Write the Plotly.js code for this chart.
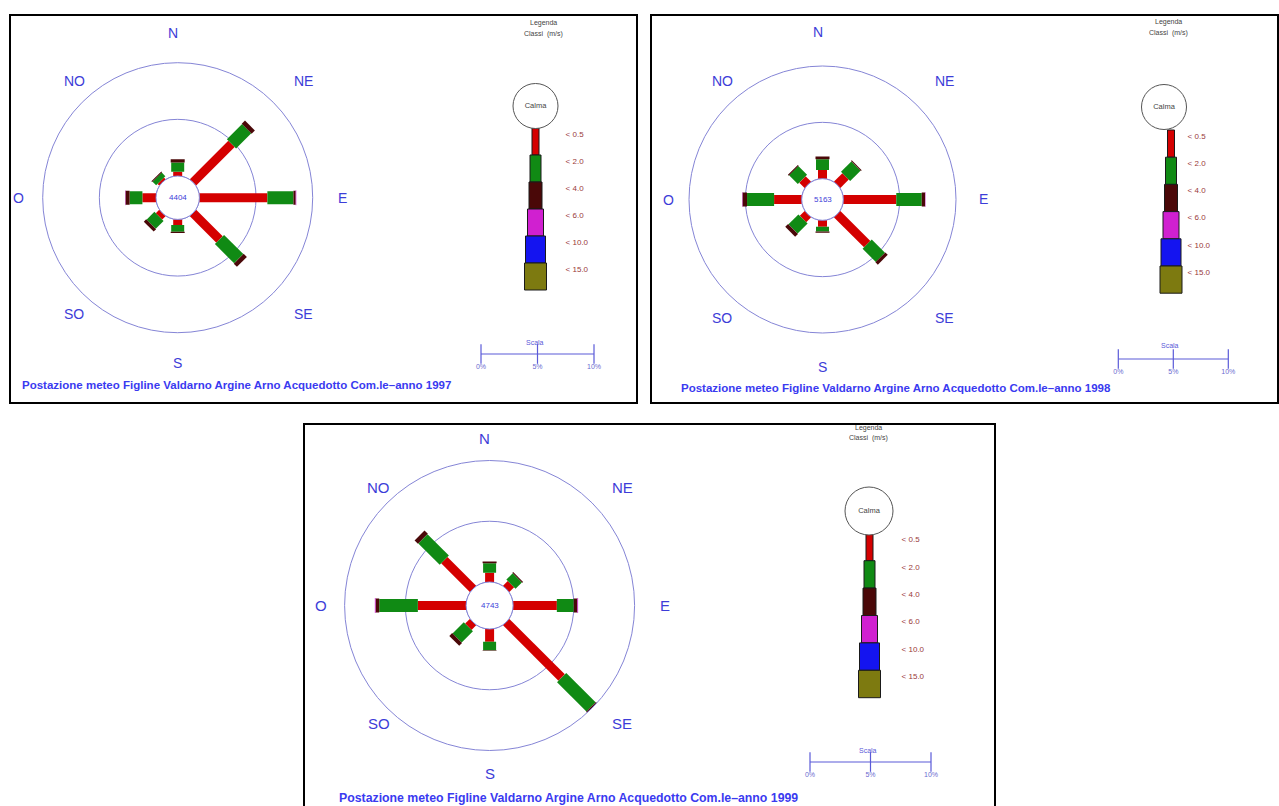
<!DOCTYPE html>
<html><head><meta charset="utf-8">
<script src="https://cdn.plot.ly/plotly-3.0.1.min.js"></script>
<style>html,body{margin:0;padding:0;background:#fff}#chart{width:1279px;height:806px}</style>
</head><body><div id="chart"></div>
<script>
// ---------------- DATA ----------------
const DIRS = ['N','NE','E','SE','S','SO','O','NO'];
const DIR_DEG = [0,45,90,135,180,225,270,315];
const CLASSES = ['< 0.5','< 2.0','< 4.0','< 6.0','< 10.0','< 15.0'];
const YEARS = [1997, 1998, 1999];
const TOTALS = [4404, 5163, 4743];
const SCALE_TICKS = [0, 5, 10];
const SCALE_LABELS = ['0%', '5%', '10%'];

// frequency (%) per direction (N, NE, E, SE, S, SO, O, NO) for each speed class
const F1997_C05 = [0.38, 4.8, 6.0, 3.3, 0.5, 0.42, 1.2, 0.2];
const F1997_C2  = [0.81, 1.9, 2.3, 2.4, 0.6, 0.98, 1.13, 0.45];
const F1997_C4  = [0.29, 0.4, 0.2, 0.4, 0.1, 0.3, 0.36, 0.1];
const F1997_C6  = [0, 0, 0.05, 0, 0, 0, 0.03, 0];

const F1998_C05 = [0.78, 1.05, 4.7, 3.76, 0.57, 0.6, 2.45, 0.67];
const F1998_C2  = [0.95, 1.3, 2.26, 1.66, 0.43, 1.25, 2.4, 1.1];
const F1998_C4  = [0.23, 0.1, 0.3, 0.3, 0.1, 0.36, 0.4, 0.1];
const F1998_C6  = [0, 0, 0.03, 0, 0, 0, 0.03, 0];

const F1999_C05 = [0.77, 0.55, 3.6, 6.45, 1.05, 0.54, 3.97, 3.34];
const F1999_C2  = [0.78, 0.74, 1.39, 3.42, 0.69, 1.31, 3.18, 2.49];
const F1999_C4  = [0.13, 0.1, 0.3, 0.27, 0.05, 0.33, 0.3, 0.39];
const F1999_C6  = [0, 0, 0.06, 0, 0, 0, 0.06, 0];

// ---------------- STYLE ----------------
const CLASS_COLORS = ['#d40000','#108a14','#4a0808','#d020d0','#1414f0','#7d7a10'];
const ROSE_W = [9, 13, 14, 15, 16, 17];
const LEG_W = [7, 11, 13, 16, 20, 22];
const DIR_DX = [-5, 11, 3, 11, 0, 11, 3, 11];   // horizontal nudge of direction labels (px)
const RING = '#8585d6';
const BLUE_TXT = '#3d3dd8';
const W = 1279, H = 806;
const fx = p => p / W;
const fy = p => 1 - p / H;

const PANELS = [
  {series:[F1997_C05,F1997_C2,F1997_C4,F1997_C6], cx:177.7, cy:197.7, R:135, hole:21.7, lab:14, lrx:162, lry:165,
   leg:{cx:535.5, top:128, seg:27, ccx:535.5, ccy:106, cr:45, lx:566},
   legTitle:{x:543, y1:23, y2:34},
   scale:{x0:481, x1:594, y:354, ly:370, sy:342},
   title:{x:20, y:385, size:11.5},
   frame:[10,15,637,403]},
  {series:[F1998_C05,F1998_C2,F1998_C4,F1998_C6], cx:822.5, cy:199.5, R:133.5, hole:20.8, lab:14, lrx:157.5, lry:167,
   leg:{cx:1171, top:130, seg:27.2, ccx:1164, ccy:107, cr:45, lx:1188},
   legTitle:{x:1168, y1:22, y2:33},
   scale:{x0:1118.3, x1:1228.3, y:359, ly:373, sy:345},
   title:{x:679, y:388, size:11.5},
   frame:[651,15,1278,403]},
  {series:[F1999_C05,F1999_C2,F1999_C4,F1999_C6], cx:489.6, cy:605.5, R:145, hole:23.5, lab:15, lrx:172, lry:167.5,
   leg:{cx:869.5, top:533.3, seg:27.4, ccx:869, ccy:511, cr:48, lx:902},
   legTitle:{x:869, y1:428, y2:438},
   scale:{x0:810, x1:931, y:762, ly:777, sy:750},
   title:{x:337, y:798, size:12.3},
   frame:[304,424,995,830]}
];

const traces = [];
const layout = {
  width: W, height: H, margin:{l:0,r:0,t:0,b:0},
  paper_bgcolor:'#ffffff', plot_bgcolor:'rgba(0,0,0,0)',
  showlegend:false, barmode:'overlay',
  annotations:[], shapes:[]
};

// hole ring angles (decoration)
const RING_TH = []; for (let a = 0; a <= 360; a += 4) RING_TH.push(a);

PANELS.forEach((P, k) => {
  const n = k + 1;
  const pol = n === 1 ? 'polar' : 'polar' + n;
  // ----- rose -----
  layout[pol] = {
    domain:{x:[fx(P.cx-P.R), fx(P.cx+P.R)], y:[fy(P.cy+P.R), fy(P.cy-P.R)]},
    hole: P.hole / P.R,
    bgcolor:'rgba(0,0,0,0)',
    radialaxis:{range:[0,10], tickvals:[5], showticklabels:false, ticks:'', showline:false,
      showgrid:true, gridcolor:RING, gridwidth:1},
    angularaxis:{direction:'clockwise', rotation:90, tickmode:'array', tickvals:DIR_DEG, ticktext:DIRS,
      ticks:'', showticklabels:false, showgrid:false, showline:true, linecolor:RING, linewidth:1}
  };
  // direction labels around the rose
  DIR_DEG.forEach((d, i) => {
    const a = d * Math.PI / 180;
    layout.annotations.push({xref:'paper', yref:'paper',
      x:fx(P.cx + P.lrx * Math.sin(a) + DIR_DX[i]), y:fy(P.cy - P.lry * Math.cos(a)), text:DIRS[i],
      showarrow:false, xanchor:'center', yanchor:'middle',
      font:{family:'Liberation Sans, Arial, sans-serif', size:P.lab, color:BLUE_TXT}});
  });
  traces.push({type:'scatterpolar', subplot:pol, mode:'lines', r:RING_TH.map(()=>0), theta:RING_TH,
    line:{color:RING, width:1}, hoverinfo:'skip', cliponaxis:false});
  const cum = DIRS.map(() => 0);
  P.series.forEach((vals, ci) => {
    const r = [], th = [];
    vals.forEach((v, i) => {
      if (v > 0) { r.push(cum[i], cum[i] + v, null); th.push(DIR_DEG[i], DIR_DEG[i], null); }
      cum[i] += v;
    });
    traces.push({type:'scatterpolar', subplot:pol, mode:'lines', r, theta:th, connectgaps:false,
      line:{color:CLASS_COLORS[ci], width:ROSE_W[ci]}, cliponaxis:false, hoverinfo:'skip'});
  });
  layout.annotations.push({xref:'paper', yref:'paper', x:fx(P.cx), y:fy(P.cy), text:String(TOTALS[k]),
    showarrow:false, xanchor:'center', yanchor:'middle', font:{family:'Liberation Sans, Arial', size:8, color:BLUE_TXT}});

  // ----- legend (cartesian axes) -----
  const L = P.leg, hw = L.lx - L.cx - 3;
  const sfx = n === 1 ? '' : String(n);
  const yTopVal = -2, yBotVal = 6.15;
  layout['xaxis' + sfx] = {domain:[fx(L.cx-hw), fx(L.cx+hw)], range:[-hw, hw], visible:false, fixedrange:true};
  layout['yaxis' + sfx] = {domain:[fy(L.top + yBotVal*L.seg), fy(L.top + yTopVal*L.seg)], range:[yBotVal, yTopVal],
    anchor:'x' + sfx, side:'right', showgrid:false, zeroline:false, showline:false,
    tickmode:'array', tickvals:CLASSES.map((_, i) => i + 0.22), ticktext:CLASSES,
    ticks:'outside', ticklen:0, tickcolor:'rgba(0,0,0,0)',
    tickfont:{family:'Liberation Sans, Arial', size:8, color:'#9a3a3a'}};
  traces.push({type:'bar', xaxis:'x' + sfx, yaxis:'y' + sfx,
    x:CLASSES.map(() => 0), y:CLASSES.map(() => 1), base:CLASSES.map((_, i) => i), width:LEG_W,
    marker:{color:CLASS_COLORS, line:{color:'#1a1a1a', width:1}}, hoverinfo:'skip'});
  traces.push({type:'scatter', xaxis:'x' + sfx, yaxis:'y' + sfx,
    x:[L.ccx - L.cx], y:[(L.ccy - L.top) / L.seg], mode:'markers+text', text:['Calma'],
    textposition:'middle center', textfont:{family:'Liberation Sans, Arial', size:7.5, color:'#444'},
    marker:{size:L.cr, color:'#ffffff', line:{color:'#555', width:1}}, cliponaxis:false, hoverinfo:'skip'});
  layout.annotations.push({xref:'paper', yref:'paper', x:fx(P.legTitle.x), y:fy(P.legTitle.y1), text:'Legenda',
    showarrow:false, xanchor:'center', yanchor:'middle', font:{family:'Liberation Sans, Arial', size:7, color:'#444'}});
  layout.annotations.push({xref:'paper', yref:'paper', x:fx(P.legTitle.x), y:fy(P.legTitle.y2), text:'Classi  (m/s)',
    showarrow:false, xanchor:'center', yanchor:'middle', font:{family:'Liberation Sans, Arial', size:7, color:'#444'}});

  // ----- scale bar -----
  const S = P.scale, sn = n + 3;
  layout['xaxis' + sn] = {domain:[fx(S.x0), fx(S.x1)], range:[0, 10], anchor:'y' + sn, showgrid:false, zeroline:false,
    showline:false, ticks:'', tickmode:'array', tickvals:SCALE_TICKS, ticktext:SCALE_LABELS,
    tickfont:{family:'Liberation Sans, Arial', size:7, color:'#6a6ad0'}, fixedrange:true};
  layout['yaxis' + sn] = {domain:[fy(S.y + 7), fy(S.y - 7)], range:[-1, 1], visible:false, fixedrange:true};
  traces.push({type:'scatter', xaxis:'x' + sn, yaxis:'y' + sn, x:SCALE_TICKS, y:SCALE_TICKS.map(() => 0),
    mode:'lines+markers', line:{color:'#5a5ad8', width:1.2},
    marker:{symbol:'line-ns-open', size:14, line:{color:'#5a5ad8', width:1.2}}, cliponaxis:false, hoverinfo:'skip'});
  layout.annotations.push({xref:'paper', yref:'paper', x:fx((S.x0 + S.x1) / 2 - 3), y:fy(S.sy), text:'Scala',
    showarrow:false, xanchor:'center', yanchor:'middle', font:{family:'Liberation Sans, Arial', size:7, color:'#5a5ad8'}});

  // ----- title -----
  layout.annotations.push({xref:'paper', yref:'paper', x:fx(P.title.x), y:fy(P.title.y),
    text:'<b>Postazione meteo Figline Valdarno Argine Arno Acquedotto Com.le–anno ' + YEARS[k] + '</b>',
    showarrow:false, xanchor:'left', yanchor:'middle',
    font:{family:'Liberation Sans, Arial, sans-serif', size:P.title.size, color:'#3a3af0'}});

  // ----- frame -----
  const f = P.frame;
  layout.shapes.push({type:'rect', xref:'paper', yref:'paper', x0:fx(f[0]), x1:fx(f[2]), y0:fy(f[3]), y1:fy(f[1]),
    line:{color:'#000', width:2}, fillcolor:'rgba(0,0,0,0)', layer:'below'});
});

Plotly.newPlot('chart', traces, layout, {displayModeBar:false, staticPlot:true});
</script>
</body></html>
